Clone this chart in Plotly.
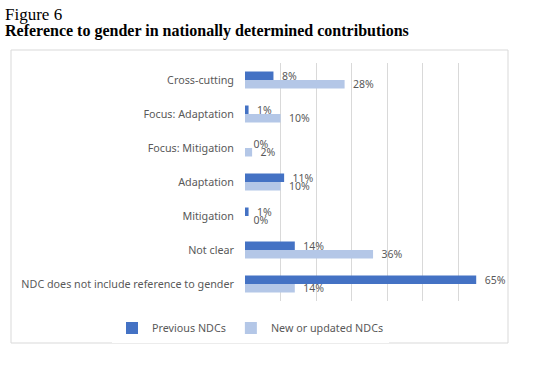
import plotly.graph_objects as go

categories = ["Cross-cutting", "Focus: Adaptation", "Focus: Mitigation", "Adaptation",
              "Mitigation", "Not clear", "NDC does not include reference to gender"]
previous_ndcs = [8, 1, 0, 11, 1, 14, 65]
new_ndcs = [28, 10, 2, 10, 0, 36, 14]
series_names = ["Previous NDCs", "New or updated NDCs"]
colors = ["#4472C4", "#B4C7E7"]

W, H = 542, 365
L, R, T, B = 245, 48, 63, 64

fig = go.Figure()
for name, vals, col in zip(series_names, [previous_ndcs, new_ndcs], colors):
    fig.add_trace(go.Bar(
        y=categories, x=vals, name=name, orientation="h",
        marker=dict(color=col, line=dict(width=0)),
        text=[f"\u00a0\u00a0{v}%" for v in vals], textposition="outside",
        textfont=dict(family="Noto Sans", size=10.5, color="#595959"),
        cliponaxis=False, constraintext="none",
    ))

pw = W - L - R
ph = H - T - B
def px_x(x):
    return (x - L) / pw
def px_y(y):
    return (H - B - y) / ph

fig.update_layout(
    width=W, height=H,
    margin=dict(l=L, r=R, t=T, b=B, autoexpand=False),
    paper_bgcolor="white", plot_bgcolor="white",
    barmode="group", bargap=0.5, bargroupgap=0,
    font=dict(family="Noto Sans", size=10.5, color="#595959"),
    xaxis=dict(range=[0, 70], dtick=10, showgrid=True, gridcolor="#D9D9D9", gridwidth=1,
               showticklabels=False, zeroline=False, showline=False, fixedrange=True,
               automargin=False),
    yaxis=dict(autorange="reversed", showgrid=False, showline=False, zeroline=False,
               ticks="", ticklabelstandoff=10, automargin=False,
               tickfont=dict(family="Noto Sans", size=10.75, color="#595959")),
    legend=dict(orientation="h", xref="paper", yref="paper",
                x=px_x(112), y=px_y(328), xanchor="left", yanchor="middle",
                font=dict(family="Noto Sans", size=10.75, color="#595959"),
                traceorder="normal", itemwidth=30),
    shapes=[dict(type="rect", xref="paper", yref="paper",
                 x0=px_x(11), x1=px_x(508), y0=px_y(343), y1=px_y(50),
                 line=dict(color="#D9D9D9", width=1), fillcolor="rgba(0,0,0,0)", layer="below")],
    annotations=[
        dict(text="Figure 6", xref="paper", yref="paper", x=px_x(3), y=px_y(14.5),
             xanchor="left", yanchor="middle", showarrow=False,
             font=dict(family="Liberation Serif", size=17, color="black")),
        dict(text="<b>Reference to gender in nationally determined contributions</b>",
             xref="paper", yref="paper", x=px_x(3), y=px_y(30.5),
             xanchor="left", yanchor="middle", showarrow=False,
             font=dict(family="Liberation Serif", size=16, color="black")),
    ],
)

fig.write_html("out.html", config={"displayModeBar": False},
               post_script="document.body.style.margin='0';")
